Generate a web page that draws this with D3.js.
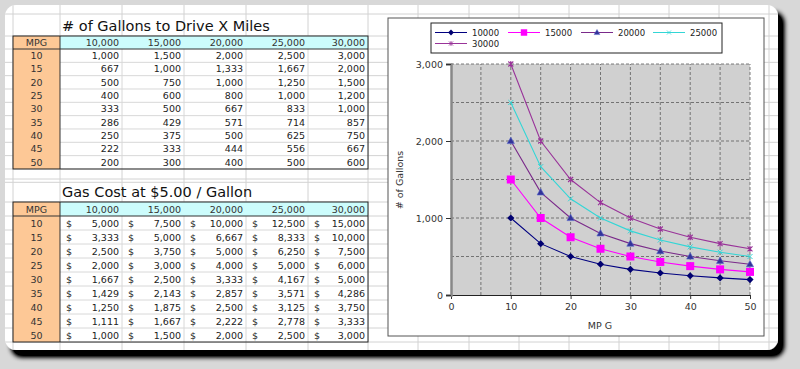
<!DOCTYPE html>
<html><head><meta charset="utf-8">
<script src="https://cdn.jsdelivr.net/npm/d3@7"></script>
<style>body{margin:0;background:#d8d8d8;overflow:hidden} svg{display:block;font-family:"DejaVu Sans",sans-serif;}</style>
</head><body><svg id="c" width="800" height="369"></svg>
<script>
// ---------- DATA ----------
const mpg = [10, 15, 20, 25, 30, 35, 40, 45, 50];
const miles = ["10,000", "15,000", "20,000", "25,000", "30,000"];
const seriesNames = ["10000", "15000", "20000", "25000", "30000"];
const gallons10000 = [1000, 667, 500, 400, 333, 286, 250, 222, 200];
const gallons15000 = [1500, 1000, 750, 600, 500, 429, 375, 333, 300];
const gallons20000 = [2000, 1333, 1000, 800, 667, 571, 500, 444, 400];
const gallons25000 = [2500, 1667, 1250, 1000, 833, 714, 625, 556, 500];
const gallons30000 = [3000, 2000, 1500, 1200, 1000, 857, 750, 667, 600];
const cost10000 = [5000, 3333, 2500, 2000, 1667, 1429, 1250, 1111, 1000];
const cost15000 = [7500, 5000, 3750, 3000, 2500, 2143, 1875, 1667, 1500];
const cost20000 = [10000, 6667, 5000, 4000, 3333, 2857, 2500, 2222, 2000];
const cost25000 = [12500, 8333, 6250, 5000, 4167, 3571, 3125, 2778, 2500];
const cost30000 = [15000, 10000, 7500, 6000, 5000, 4286, 3750, 3333, 3000];
const title1 = "# of Gallons to Drive X Miles";
const title2 = "Gas Cost at $5.00 / Gallon";
const yTicks = [0, 1000, 2000, 3000];
const xTicks = [0, 10, 20, 30, 40, 50];

const gallons = [gallons10000, gallons15000, gallons20000, gallons25000, gallons30000];
const costs = [cost10000, cost15000, cost20000, cost25000, cost30000];

// ---------- LAYOUT ----------
const svg = d3.select("#c");
const fmt = d3.format(",");
const defs = svg.append("defs");
const f = defs.append("filter").attr("id", "sh").attr("x", "-5%").attr("y", "-5%").attr("width", "115%").attr("height", "120%");
f.append("feGaussianBlur").attr("in", "SourceAlpha").attr("stdDeviation", 2.5).attr("result", "b");
f.append("feOffset").attr("in", "b").attr("dx", 6).attr("dy", 7).attr("result", "o");
f.append("feComponentTransfer").attr("in", "o").attr("result", "o2")
  .append("feFuncA").attr("type", "linear").attr("slope", 1.4);
const m = f.append("feMerge");
m.append("feMergeNode").attr("in", "o2");
m.append("feMergeNode").attr("in", "SourceGraphic");

const paper = {x: 5, y: 5, w: 773, h: 345};
svg.append("rect").attr("x", paper.x).attr("y", paper.y).attr("width", paper.w).attr("height", paper.h)
  .attr("rx", 11).attr("fill", "#fff").attr("filter", "url(#sh)");

const clip = defs.append("clipPath").attr("id", "pc");
clip.append("rect").attr("x", paper.x).attr("y", paper.y).attr("width", paper.w).attr("height", paper.h).attr("rx", 11);
const g = svg.append("g").attr("clip-path", "url(#pc)");

// spreadsheet grid
const colEdges = [13, 60, 122, 184, 246, 308, 368, 418, 469, 519, 569, 619, 669, 719, 769];
const t1 = {top: 36, head: 13, row: 13.33};
const t2 = {top: 202, head: 14, row: 14};
const rowEdges = [14, 36];
for (let i = 0; i <= 10; i++) rowEdges.push(t1.top + t1.head + (i) * t1.row);
rowEdges.push(179);
for (let i = 0; i <= 11; i++) rowEdges.push(t2.top + (i === 0 ? 0 : t2.head + (i - 1) * t2.row));
g.selectAll(".vg").data(colEdges).join("line").attr("x1", d => d).attr("x2", d => d)
  .attr("y1", paper.y).attr("y2", paper.y + paper.h).attr("stroke", "#d2d2d2").attr("stroke-width", 1);
g.selectAll(".hg").data(rowEdges).join("line").attr("y1", d => d).attr("y2", d => d)
  .attr("x1", paper.x).attr("x2", paper.x + paper.w).attr("stroke", "#d2d2d2").attr("stroke-width", 1);

function table(spec, title, values, isCost) {
  const L = colEdges[0], R = colEdges[6], mc = colEdges[1];
  const nRows = mpg.length;
  const bottom = spec.top + spec.head + nRows * spec.row;
  g.append("rect").attr("x", L).attr("y", spec.top).attr("width", R - L).attr("height", bottom - spec.top).attr("fill", "#fff");
  g.append("rect").attr("x", L).attr("y", spec.top).attr("width", mc - L).attr("height", bottom - spec.top).attr("fill", "#fdc896");
  g.append("rect").attr("x", mc).attr("y", spec.top).attr("width", R - mc).attr("height", spec.head).attr("fill", "#ccfcfc");
  for (let i = 1; i < nRows; i++) {
    const y = spec.top + spec.head + i * spec.row;
    g.append("line").attr("x1", mc).attr("x2", R).attr("y1", y).attr("y2", y).attr("stroke", "#d8d8d8");
  }
  for (let c = 2; c < 6; c++) {
    g.append("line").attr("x1", colEdges[c]).attr("x2", colEdges[c]).attr("y1", spec.top + spec.head).attr("y2", bottom).attr("stroke", "#d8d8d8");
  }
  g.append("line").attr("x1", L).attr("x2", R).attr("y1", spec.top + spec.head).attr("y2", spec.top + spec.head).attr("stroke", "#333").attr("stroke-width", 1);
  g.append("line").attr("x1", mc).attr("x2", mc).attr("y1", spec.top).attr("y2", bottom).attr("stroke", "#333").attr("stroke-width", 1);
  g.append("rect").attr("x", L).attr("y", spec.top).attr("width", R - L).attr("height", bottom - spec.top)
    .attr("fill", "none").attr("stroke", "#222").attr("stroke-width", 1);
  g.append("text").attr("x", 62).attr("y", spec.top - 5).attr("font-size", 14.5).attr("fill", "#111").text(title);
  const hy = spec.top + spec.head / 2 + 3.5;
  g.append("text").attr("x", (L + mc) / 2).attr("y", hy).attr("text-anchor", "middle").attr("font-size", 9.5).attr("fill", "#333").text("MPG");
  miles.forEach((mm, c) => {
    g.append("text").attr("x", colEdges[c + 2] - 3).attr("y", hy).attr("text-anchor", "end").attr("font-size", 9.5).attr("fill", "#333").text(mm);
  });
  mpg.forEach((mv, r) => {
    const y = spec.top + spec.head + r * spec.row + spec.row / 2 + 3.5;
    g.append("text").attr("x", (L + mc) / 2).attr("y", y).attr("text-anchor", "middle").attr("font-size", 9.5).attr("fill", "#333").text(mv);
    values.forEach((col, c) => {
      g.append("text").attr("x", colEdges[c + 2] - 3).attr("y", y).attr("text-anchor", "end").attr("font-size", 9.5).attr("fill", "#222").text(fmt(col[r]));
      if (isCost) g.append("text").attr("x", colEdges[c + 1] + 6).attr("y", y).attr("font-size", 9.5).attr("fill", "#222").text("$");
    });
  });
}
table(t1, title1, gallons, false);
table(t2, title2, costs, true);

// ---------- CHART ----------
const box = {x: 388, y: 18, w: 376, h: 318};
g.append("rect").attr("x", box.x).attr("y", box.y).attr("width", box.w).attr("height", box.h)
  .attr("fill", "#fff").attr("stroke", "#555").attr("stroke-width", 1);

const x = d3.scaleLinear().domain([0, 50]).range([451, 750]);
const y = d3.scaleLinear().domain([0, 3000]).range([295, 64]);

g.append("rect").attr("x", x(0)).attr("y", y(3000)).attr("width", x(50) - x(0)).attr("height", y(0) - y(3000)).attr("fill", "#d0d0d0");
g.selectAll(".gx").data(d3.range(5, 55, 5)).join("line")
  .attr("x1", d => x(d)).attr("x2", d => x(d)).attr("y1", y(0)).attr("y2", y(3000))
  .attr("stroke", "#5a5a5a").attr("stroke-dasharray", "3,2").attr("stroke-width", 0.8);
g.selectAll(".gy").data(d3.range(500, 3500, 500)).join("line")
  .attr("y1", d => y(d)).attr("y2", d => y(d)).attr("x1", x(0)).attr("x2", x(50))
  .attr("stroke", "#5a5a5a").attr("stroke-dasharray", "3,2").attr("stroke-width", 0.8);

const yAxis = d3.axisLeft(y).tickValues(yTicks).tickFormat(fmt).tickSize(5).tickPadding(3);
const ya = g.append("g").attr("transform", `translate(${x(0)},0)`).call(yAxis);
ya.select(".domain").attr("stroke", "#888").attr("stroke-width", 2.5);
ya.selectAll(".tick line").attr("stroke", "#333");
ya.selectAll("text").attr("font-size", 9.5).attr("fill", "#333").attr("font-family", "DejaVu Sans");
const xAxis = d3.axisBottom(x).tickValues(xTicks).tickSize(4).tickPadding(4).tickSizeOuter(0);
const xa = g.append("g").attr("transform", `translate(0,${y(0)})`).call(xAxis);
xa.select(".domain").attr("stroke", "#222").attr("stroke-width", 1);
xa.selectAll(".tick line").attr("stroke", "#333");
xa.selectAll("text").attr("font-size", 9.5).attr("fill", "#333").attr("font-family", "DejaVu Sans");
ya.raise();

g.append("text").attr("x", 600).attr("y", 329).attr("text-anchor", "middle").attr("font-size", 9.5).attr("fill", "#333").text("MP G");
g.append("text").attr("transform", "translate(403,180) rotate(-90)").attr("text-anchor", "middle").attr("font-size", 9.5).attr("fill", "#333").text("# of Gallons");

const lineColors = ["#000080", "#ff00ff", "#7a2a8a", "#33d6d6", "#993399"];
const markColors = ["#000070", "#ff00ff", "#333399", "#33d6d6", "#993399"];

function marker(sel, i) {
  if (i === 0) {
    sel.append("path").attr("d", "M0,-3.6L3.6,0L0,3.6L-3.6,0Z").attr("fill", markColors[i]);
  } else if (i === 1) {
    sel.append("path").attr("d", "M-4,-4H4V4H-4Z").attr("fill", markColors[i]);
  } else if (i === 2) {
    sel.append("path").attr("d", "M0,-3.8L3.6,2.6L-3.6,2.6Z").attr("fill", markColors[i]).attr("stroke", "#5566cc").attr("stroke-width", 0.6);
  } else if (i === 3) {
    sel.append("path").attr("d", "M-2.5,-2.5L2.5,2.5M-2.5,2.5L2.5,-2.5").attr("stroke", markColors[i]).attr("stroke-width", 1).attr("fill", "none");
  } else {
    sel.append("path").attr("d", "M-2.5,-2.5L2.5,2.5M-2.5,2.5L2.5,-2.5M0,-3L0,3").attr("stroke", markColors[i]).attr("stroke-width", 1.1).attr("fill", "none");
  }
}

const line = d3.line().x((d, k) => x(mpg[k])).y(d => y(d));
gallons.forEach((vals, i) => {
  g.append("path").attr("d", line(vals)).attr("fill", "none").attr("stroke", lineColors[i]).attr("stroke-width", 1.1);
  vals.forEach((v, k) => {
    const s = g.append("g").attr("transform", `translate(${x(mpg[k])},${y(v)})`);
    marker(s, i);
  });
});

// legend
const lg = {x: 431, y: 23, w: 291, h: 30};
g.append("rect").attr("x", lg.x).attr("y", lg.y).attr("width", lg.w).attr("height", lg.h).attr("fill", "#fff").attr("stroke", "#222").attr("stroke-width", 1);
const legPos = [[435, 32.5], [508, 32.5], [581, 32.5], [653, 32.5], [435, 43.5]];
seriesNames.forEach((nm, i) => {
  const [lx, ly] = legPos[i];
  g.append("line").attr("x1", lx).attr("x2", lx + 32).attr("y1", ly).attr("y2", ly).attr("stroke", lineColors[i]).attr("stroke-width", 1);
  const s = g.append("g").attr("transform", `translate(${lx + 16},${ly}) scale(0.8)`);
  marker(s, i);
  g.append("text").attr("x", lx + 37).attr("y", ly + 3).attr("font-size", 8.5).attr("fill", "#222").text(nm);
});
</script></body></html>
